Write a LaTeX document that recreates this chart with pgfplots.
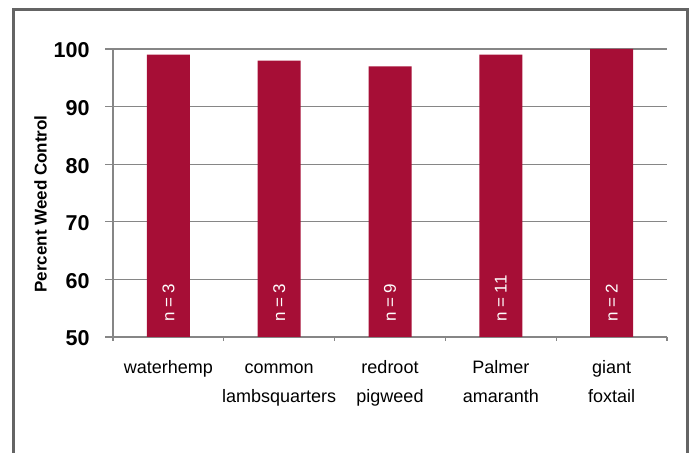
\documentclass[border=0pt]{standalone}
\usepackage{pgfplots}
\pgfplotsset{compat=1.18}
\usepackage{fontspec}
\setmainfont{Liberation Sans}
\definecolor{barred}{RGB}{166,14,54}
\definecolor{gridgray}{RGB}{134,134,134}
\definecolor{framegray}{RGB}{100,100,100}
\begin{document}
\begin{tikzpicture}[x=1bp,y=1bp]
\begin{axis}[
  at={(113bp,116bp)}, anchor=south west,
  scale only axis, width=554bp, height=288bp,
  xmin=-0.5, xmax=4.5, ymin=50, ymax=100,
  axis x line*=bottom, axis y line*=left,
  axis line style={gridgray, line width=1.3bp, -},
  /pgf/number format/assume math mode=true,
  ytick={50,60,...,100},
  ymajorgrids, grid style={gridgray, line width=1.3bp},
  xtick={0,...,4},
  xticklabels={waterhemp\\\mbox{}, common\\lambsquarters, redroot\\pigweed, Palmer\\amaranth, giant\\foxtail},
  minor xtick={-0.5,0.5,...,4.5},
  tick align=outside, major tick length=8bp, minor tick length=4bp,
  tick style={gridgray, line width=1.3bp},
  major x tick style={draw=none},
  xticklabel style={font=\fontsize{18bp}{29bp}\selectfont, align=center, anchor=base, yshift=-58bp},
  yticklabel style={font=\fontsize{21.5bp}{24bp}\selectfont\bfseries, anchor=east, xshift=-12bp, yshift=-1.5bp},
  ylabel={Percent Weed Control},
  ylabel style={font=\fontsize{17bp}{20bp}\selectfont\bfseries, at={(rel axis cs:-0.1309,0.462)}, anchor=center},
]
\addplot[ybar, bar width=43bp, bar shift=0pt, fill=barred, draw=none]
  coordinates {(0,99) (1,98) (2,97) (3,99) (4,100)};
\addplot[draw=none, nodes near coords, point meta=explicit symbolic,
  nodes near coords align={anchor=west},
  every node near coord/.append style={rotate=90, anchor=west, inner sep=0pt, text=white, font=\fontsize{17bp}{18bp}\selectfont}]
  coordinates {(0,52.6) [n = 3] (1,52.6) [n = 3] (2,52.6) [n = 9] (3,52.6) [n = 11] (4,52.6) [n = 2]};
\end{axis}
\draw[framegray, line width=2.5bp] (13.5,-10) -- (13.5,443.5) -- (687.5,443.5) -- (687.5,-10);
\pgfresetboundingbox
\path[use as bounding box] (0,0) rectangle (696,453);
\end{tikzpicture}
\end{document}
